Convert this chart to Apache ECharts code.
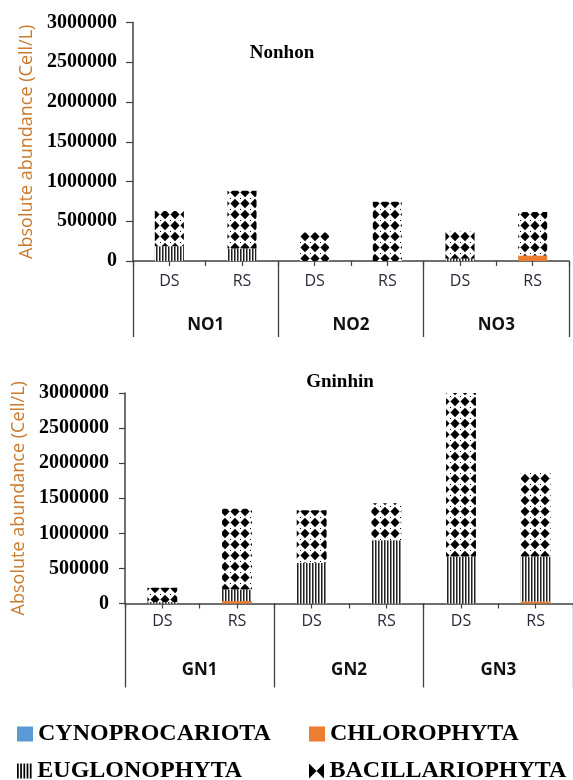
<!DOCTYPE html>
<html>
<head>
<meta charset="utf-8">
<script src="https://cdn.jsdelivr.net/npm/echarts@6/dist/echarts.min.js"></script>
<style>
html,body{margin:0;padding:0;background:#fff;}
#chart{width:573px;height:780px;}
</style>
</head>
<body>
<div id="chart"></div>
<script>
// ---- data ----
var subLabels = ['DS', 'RS', 'DS', 'RS', 'DS', 'RS'];
var groupsTop = ['NO1', 'NO2', 'NO3'];
var groupsBottom = ['GN1', 'GN2', 'GN3'];
var seriesNames = ['CYNOPROCARIOTA', 'CHLOROPHYTA', 'EUGLONOPHYTA', 'BACILLARIOPHYTA'];
var titleTop = 'Nonhon';
var titleBottom = 'Gninhin';
var yAxisName = 'Absolute abundance (Cell/L)';

var topCyano  = [0, 0, 0, 0, 0, 0];
var topChloro = [0, 0, 0, 0, 0, 70000];
var topEuglo  = [185000, 157000, 0, 0, 30000, 0];
var topBacil  = [445000, 727000, 360000, 745000, 340000, 545000];

var bottomCyano  = [0, 0, 0, 0, 0, 0];
var bottomChloro = [0, 35000, 0, 0, 0, 30000];
var bottomEuglo  = [20000, 165000, 580000, 900000, 670000, 640000];
var bottomBacil  = [205000, 1150000, 750000, 530000, 2330000, 1200000];

// ---- patterns ----
function stripePattern() {
  var c = document.createElement('canvas');
  c.width = 3; c.height = 4;
  var ctx = c.getContext('2d');
  ctx.fillStyle = '#ffffff'; ctx.fillRect(0, 0, 3, 4);
  ctx.fillStyle = '#222222'; ctx.fillRect(0, 0, 1, 4);
  ctx.fillStyle = '#8a8a8a'; ctx.fillRect(1, 0, 1, 4);
  return c;
}
function diamondPattern() {
  var c = document.createElement('canvas');
  c.width = 10; c.height = 11;
  var ctx = c.getContext('2d');
  ctx.fillStyle = '#ffffff'; ctx.fillRect(0, 0, 10, 11);
  ctx.fillStyle = '#000000';
  ctx.beginPath();
  ctx.moveTo(5, 0.8); ctx.lineTo(9.6, 5.5); ctx.lineTo(5, 10.2); ctx.lineTo(0.4, 5.5);
  ctx.closePath(); ctx.fill();
  ctx.fillRect(0, 0, 1, 1);
  return c;
}
var euglo = { image: stripePattern(), repeat: 'repeat' };
var bacil = { image: diamondPattern(), repeat: 'repeat' };
var colors = ['#5b9bd5', '#ed7d31', euglo, bacil];

var axisColor = '#404040';
var serif = 'Liberation Serif';
var sans = 'Open Sans';

function xAxesFor(gridIndex, groups, lineLen, subMargin, groupMargin) {
  return [
    {
      type: 'category', gridIndex: gridIndex, data: subLabels, position: 'bottom',
      axisLine: { show: true, lineStyle: { color: axisColor, width: 1.5 } },
      axisTick: { show: true, alignWithLabel: true, length: 5, lineStyle: { color: axisColor, width: 1.2 } },
      axisLabel: { margin: subMargin, fontFamily: sans, fontSize: 16, color: '#2a2a3a' }
    },
    {
      type: 'category', gridIndex: gridIndex, data: ['', '', '', '', '', ''], position: 'bottom',
      axisLine: { show: false },
      axisTick: { show: true, length: 5, lineStyle: { color: axisColor, width: 1.2 } },
      axisLabel: { show: false }
    },
    {
      type: 'category', gridIndex: gridIndex, data: groups, position: 'bottom',
      axisLine: { show: false },
      axisTick: { show: true, length: lineLen, lineStyle: { color: axisColor, width: 1.3 } },
      axisLabel: { margin: groupMargin, fontFamily: sans, fontSize: 17, fontWeight: 'bold', color: '#111' }
    }
  ];
}

function yAxisFor(gridIndex, tickLen, gap) {
  return {
    type: 'value', gridIndex: gridIndex, min: 0, max: 3000000, interval: 500000,
    splitLine: { show: false },
    axisLine: { show: true, lineStyle: { color: axisColor, width: 1.5 } },
    axisTick: { show: true, length: tickLen, lineStyle: { color: axisColor, width: 1.2 } },
    axisLabel: {
      margin: 16, fontFamily: serif, fontSize: 20, fontWeight: 'bold', color: '#000',
      formatter: function (v) { return String(v); }
    },
    name: yAxisName, nameLocation: 'middle', nameRotate: 90, nameGap: gap,
    nameTextStyle: { fontFamily: sans, fontSize: 18, color: '#c97a2e' }
  };
}

var series = [];
var topData = [topCyano, topChloro, topEuglo, topBacil];
var bottomData = [bottomCyano, bottomChloro, bottomEuglo, bottomBacil];
seriesNames.forEach(function (name, i) {
  series.push({
    name: name, type: 'bar', stack: 'top', xAxisIndex: 0, yAxisIndex: 0,
    barWidth: '40%', data: topData[i], itemStyle: { color: colors[i] }
  });
});
seriesNames.forEach(function (name, i) {
  series.push({
    name: name, type: 'bar', stack: 'bottom', xAxisIndex: 3, yAxisIndex: 1,
    barWidth: '40%', data: bottomData[i], itemStyle: { color: colors[i] }
  });
});

var legendText = { fontFamily: serif, fontSize: 24, fontWeight: 'bold', color: '#000' };
function legendFor(name, left, top, extra) {
  var item = { name: name, icon: 'rect' };
  if (extra) { for (var k in extra) item[k] = extra[k]; }
  return {
    data: [item], left: left, top: top, padding: 0, itemWidth: 16, itemHeight: 15,
    itemGap: 0, textStyle: legendText, selectedMode: false
  };
}

var option = {
  animation: false,
  backgroundColor: '#ffffff',
  grid: [
    { left: 133, top: 22.5, width: 436, height: 238.5 },
    { left: 125, top: 393, width: 448, height: 210.5 }
  ],
  xAxis: xAxesFor(0, groupsTop, 76, 12, 56).concat(xAxesFor(1, groupsBottom, 84, 10, 58)),
  yAxis: [yAxisFor(0, 7, 90), yAxisFor(1, 6, 81)],
  legend: [
    legendFor(seriesNames[0], 17, 722),
    legendFor(seriesNames[1], 309, 722),
    legendFor(seriesNames[2], 17, 759, {
      icon: 'path://M0,0h1.6v14h-1.6z M3,0h1.6v14h-1.6z M6,0h1.6v14h-1.6z M9,0h1.6v14h-1.6z M12,0h1.6v14h-1.6z',
      itemStyle: { color: '#000' }
    }),
    legendFor(seriesNames[3], 309, 759, {
      icon: 'path://M0,0L7,7L0,14Z M14,0L7,7L14,14Z',
      itemStyle: { color: '#000' }
    })
  ],
  graphic: [
    { type: 'text', x: 282, y: 53, style: { text: titleTop, textAlign: 'center', textVerticalAlign: 'middle', font: 'bold 19px "Liberation Serif"', fill: '#000' } },
    { type: 'text', x: 340, y: 382, style: { text: titleBottom, textAlign: 'center', textVerticalAlign: 'middle', font: 'bold 19px "Liberation Serif"', fill: '#000' } }
  ],
  series: series
};

var chart = echarts.init(document.getElementById('chart'), null, { renderer: 'canvas' });
chart.setOption(option);
</script>
</body>
</html>
